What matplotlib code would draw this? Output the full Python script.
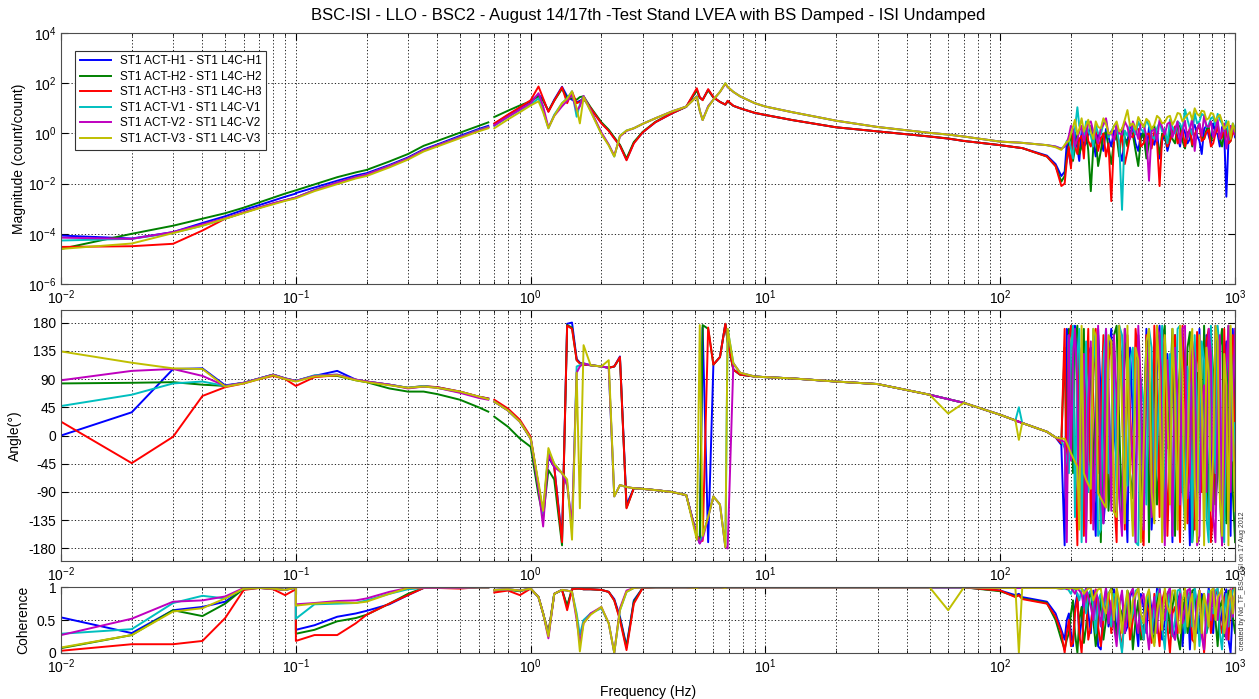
## bsc_isi_st1_tf: transfer functions ST1 actuators -> ST1 L4C, LLO BSC2 test stand
# -----------------------------------------------------------------------------
import numpy as np
import matplotlib
matplotlib.use('Agg')
from matplotlib import pyplot as plt
from matplotlib.ticker import FixedLocator, LogLocator, NullFormatter

plt.rcParams['font.family'] = ['Liberation Sans', 'DejaVu Sans']
plt.rcParams['axes.unicode_minus'] = False

# -----------------------------------------------------------------------------
# frequency points (Hz): low band, mid band, high band, high band (noisy part)
frq_a = [0.01, 0.02, 0.03, 0.04, 0.05, 0.06, 0.07, 0.08, 0.09, 0.1]
frq_b = [0.1, 0.12, 0.15, 0.18, 0.2, 0.25, 0.3, 0.35, 0.4, 0.5, 0.6, 0.66]
frq_c = [0.7, 0.8, 0.9, 1.0, 1.08, 1.13, 1.19, 1.26, 1.36, 1.43,
         1.5, 1.57, 1.62, 1.68, 1.8, 2.0, 2.15, 2.27, 2.4, 2.56,
         2.75, 3.0, 3.4, 4.0, 4.6, 5.1, 5.25, 5.4, 5.7, 6.0,
         6.4, 6.75, 6.9, 7.3, 7.8, 9.0, 10, 13, 20, 30,
         50, 60, 70, 100, 116, 120, 124, 158, 172, 182]
frq_n = [188, 192, 196, 200, 204, 208, 213, 217, 222, 227,
         232, 237, 243, 249, 255, 261, 268, 275, 282, 289,
         297, 305, 313, 321, 330, 339, 348, 357, 367, 377,
         387, 397, 408, 419, 430, 441, 453, 465, 477, 489,
         502, 515, 528, 541, 555, 569, 583, 597, 612, 627,
         642, 657, 673, 689, 705, 721, 738, 755, 772, 789,
         807, 825, 843, 861, 880, 899, 918, 937, 957, 978,
         1000]

labels = ['ST1 ACT-H1 - ST1 L4C-H1', 'ST1 ACT-H2 - ST1 L4C-H2', 'ST1 ACT-H3 - ST1 L4C-H3',
          'ST1 ACT-V1 - ST1 L4C-V1', 'ST1 ACT-V2 - ST1 L4C-V2', 'ST1 ACT-V3 - ST1 L4C-V3']

# -----------------------------------------------------------------------------
# magnitude (count/count)
mag_h1 = [8.5e-5, 6.5e-5, 1.17e-4, 2.7e-4, 5e-4, 9e-4, 1.4e-3, 2.1e-3, 3e-3, 4e-3,
          4.2e-3, 7e-3, 0.013, 0.021, 0.026, 0.055, 0.11, 0.23, 0.36, 0.8, 1.5, 2.0,
          2.4, 5.3, 10.5, 19, 36, 22, 7.5, 22, 72, 30,
          22, 17, 20, 24, 10, 2.6, 1.3, 0.65, 0.33, 0.09,
          0.42, 1.1, 2.8, 6.3, 11.5, 55, 27, 22, 55, 27,
          18, 14, 19, 12.5, 10, 6.5, 5.4, 3.4, 1.75, 1.2,
          0.75, 0.62, 0.5, 0.34, 0.28, 0.27, 0.26, 0.13, 0.06, 0.02,
          0.03, 0.4, 0.15, 0.05, 0.6, 1.1, 0.25, 0.08, 1.2, 0.3,
          0.4, 1.0, 2.0, 0.5, 0.12, 0.9, 0.6, 0.2, 1.5, 0.7,
          0.3, 1.3, 0.9, 0.25, 0.08, 0.6, 0.5, 2.0, 1.4, 0.4,
          0.2, 1.0, 0.7, 0.15, 1.8, 0.6, 0.35, 1.2, 0.1, 0.5,
          0.9, 0.2, 0.5, 1.3, 1.6, 0.7, 0.3, 1.8, 1.1, 0.4,
          0.6, 1.5, 2.2, 0.8, 0.5, 0.15, 1.5, 2.0, 0.8, 0.4,
          2.5, 1.2, 0.9, 0.3, 1.8, 0.9, 0.003, 0.5, 1.2, 2.0,
          0.7]
mag_h2 = [2.5e-5, 1e-4, 2.1e-4, 4e-4, 6.6e-4, 1.1e-3, 1.8e-3, 2.75e-3, 4e-3, 5.4e-3,
          5.4e-3, 9.3e-3, 0.018, 0.028, 0.035, 0.076, 0.15, 0.32, 0.5, 1.07, 2.0, 2.75,
          4.5, 8, 13, 19, 30, 20, 8, 20, 60, 25,
          25, 22, 28, 30, 11, 2.8, 1.4, 0.7, 0.35, 0.1,
          0.45, 1.15, 2.9, 6.5, 11.5, 52, 26, 22, 52, 27,
          18, 14, 19, 12.5, 10, 6.6, 5.4, 3.4, 1.75, 1.2,
          0.76, 0.63, 0.5, 0.34, 0.28, 0.27, 0.26, 0.12, 0.05, 0.012,
          0.02, 0.1, 0.4, 1.0, 0.08, 0.25, 0.9, 0.15, 0.3, 0.8,
          1.5, 0.2, 0.005, 0.3, 0.7, 0.05, 0.2, 0.9, 1.1, 0.3,
          0.06, 0.5, 0.8, 0.12, 1.6, 0.7, 0.3, 1.3, 0.9, 0.2,
          0.05, 0.6, 1.2, 0.1, 0.4, 1.5, 2.0, 0.5, 0.15, 1.0,
          0.7, 0.3, 1.4, 0.6, 0.4, 2.2, 1.9, 0.5, 0.25, 1.1,
          1.2, 0.3, 0.8, 1.6, 2.4, 0.7, 0.6, 1.4, 1.8, 0.5,
          0.9, 1.5, 2.6, 0.6, 0.3, 1.0, 1.5, 0.4, 0.5, 1.3,
          1.0]
mag_h3 = [3e-5, 3.2e-5, 4e-5, 1.35e-4, 4e-4, 7e-4, 1.1e-3, 1.6e-3, 2.15e-3, 2.75e-3,
          2.8e-3, 5.5e-3, 0.011, 0.018, 0.023, 0.05, 0.1, 0.21, 0.33, 0.72, 1.35, 1.8,
          2.5, 5.6, 11, 21, 74, 25, 7.2, 20, 69, 16,
          47, 16, 18, 25, 10, 2.5, 1.26, 0.63, 0.32, 0.085,
          0.4, 1.1, 2.8, 6.3, 11.7, 63, 28, 21, 58, 28,
          18, 14, 20, 12.6, 10, 6.6, 5.4, 3.4, 1.75, 1.2,
          0.75, 0.62, 0.5, 0.34, 0.28, 0.27, 0.26, 0.12, 0.05, 0.008,
          0.01, 0.08, 0.3, 0.04, 1.0, 0.3, 0.15, 0.6, 0.8, 0.1,
          2.5, 0.5, 0.3, 0.9, 1.3, 0.2, 0.6, 1.0, 0.12, 0.4,
          0.002, 0.5, 1.8, 0.3, 0.9, 0.06, 0.2, 0.8, 0.7, 1.6,
          1.5, 0.3, 0.4, 0.9, 1.0, 0.25, 1.2, 0.5, 0.008, 0.7,
          1.3, 0.3, 0.5, 1.1, 1.9, 0.4, 0.7, 1.5, 0.3, 0.8,
          1.6, 0.35, 0.9, 1.4, 2.0, 0.5, 0.6, 1.1, 1.4, 0.3,
          0.4, 1.0, 1.7, 0.6, 0.7, 1.9, 1.2, 0.4, 0.5, 1.1,
          0.9]
mag_v1 = [5.4e-5, 6.3e-5, 1.1e-4, 2.1e-4, 4e-4, 7e-4, 1.1e-3, 1.6e-3, 2.15e-3, 2.75e-3,
          2.8e-3, 5.5e-3, 0.011, 0.018, 0.023, 0.05, 0.1, 0.21, 0.33, 0.72, 1.35, 1.8,
          2.0, 4.5, 8.5, 14, 25, 8, 1.6, 5.5, 16, 25,
          47, 4.6, 14, 30, 8, 1.0, 0.35, 0.12, 0.8, 1.3,
          1.6, 2.4, 4.0, 7.5, 11.7, 30, 8, 3.4, 12, 22,
          45, 100, 70, 45, 30, 16, 11.7, 7, 3.2, 1.8,
          1.05, 0.9, 0.75, 0.47, 0.44, 0.43, 0.42, 0.34, 0.3, 0.25,
          0.3, 0.5, 0.6, 0.25, 0.1, 1.5, 11, 2.0, 1.5, 0.6,
          3.0, 1.2, 0.8, 0.3, 2.2, 1.0, 0.9, 2.5, 3.5, 0.7,
          1.2, 2.0, 1.8, 0.4, 0.0009, 1.3, 0.8, 2.4, 1.8, 0.9,
          3.0, 1.5, 1.1, 3.5, 2.0, 0.8, 0.6, 1.6, 2.8, 1.2,
          1.5, 0.4, 3.5, 1.8, 1.0, 3.0, 2.4, 1.4, 9.0, 3.5,
          1.6, 0.9, 6.5, 2.5, 3.0, 6.0, 5.0, 1.8, 2.2, 4.0,
          4.5, 2.0, 6.0, 3.5, 2.5, 1.2, 3.2, 0.8, 1.0, 2.5,
          1.5]
mag_v2 = [7e-5, 6.3e-5, 1.17e-4, 2.4e-4, 4.2e-4, 7.2e-4, 1.12e-3, 1.65e-3, 2.2e-3, 2.8e-3,
          2.8e-3, 5.4e-3, 0.011, 0.018, 0.023, 0.05, 0.1, 0.21, 0.33, 0.7, 1.3, 1.75,
          2.1, 4.6, 9, 16, 40, 12, 1.7, 5, 12, 20,
          35, 8, 12, 31, 8.5, 1.1, 0.36, 0.13, 0.75, 1.25,
          1.6, 2.4, 4.0, 7.5, 11.7, 30, 8, 3.4, 12, 22,
          45, 95, 70, 45, 30, 16, 11.7, 7, 3.2, 1.8,
          1.05, 0.9, 0.75, 0.47, 0.44, 0.43, 0.42, 0.34, 0.3, 0.24,
          0.3, 0.4, 0.8, 2.0, 1.5, 0.3, 0.6, 1.2, 2.0, 0.5,
          1.0, 2.5, 3.0, 1.2, 0.8, 0.4, 1.6, 2.2, 4.0, 0.9,
          1.2, 0.5, 2.5, 1.0, 0.9, 3.0, 1.8, 0.6, 3.0, 1.5,
          0.6, 2.5, 2.2, 0.8, 0.013, 1.2, 1.5, 0.5, 3.5, 1.8,
          0.9, 2.4, 2.8, 0.7, 1.4, 3.0, 0.4, 1.2, 3.2, 0.6,
          1.5, 4.0, 0.2, 1.5, 2.5, 0.8, 5.0, 2.0, 1.8, 3.0,
          0.7, 1.4, 3.5, 0.6, 1.2, 2.5, 0.25, 0.8, 2.0, 1.5,
          0.9]
mag_v3 = [2.5e-5, 4.1e-5, 1.07e-4, 2.1e-4, 4e-4, 6.8e-4, 1.05e-3, 1.5e-3, 2.05e-3, 2.6e-3,
          2.6e-3, 5e-3, 9.5e-3, 0.016, 0.02, 0.044, 0.09, 0.19, 0.3, 0.65, 1.2, 1.6,
          1.6, 3.6, 7, 13, 19, 7, 1.6, 5, 16, 24,
          47, 10, 2.5, 28, 7.5, 0.95, 0.33, 0.12, 0.8, 1.3,
          1.6, 2.4, 4.0, 7.5, 11.7, 29, 8, 3.4, 11, 22,
          45, 100, 72, 45, 30, 16, 11.7, 7, 3.2, 1.8,
          1.05, 0.9, 0.75, 0.47, 0.44, 0.43, 0.42, 0.34, 0.28, 0.22,
          0.35, 0.45, 0.5, 1.0, 1.8, 3.5, 0.9, 1.5, 4.0, 1.2,
          2.0, 3.5, 1.2, 0.6, 3.0, 1.8, 1.6, 4.0, 2.4, 1.0,
          1.0, 2.0, 3.0, 1.2, 1.5, 3.5, 8.5, 2.0, 2.5, 1.4,
          4.5, 2.8, 1.8, 3.8, 3.0, 1.5, 2.2, 5.0, 4.0, 2.5,
          2.8, 4.5, 5.0, 2.2, 3.5, 6.5, 6.0, 3.0, 4.2, 5.5,
          7.0, 3.5, 10.0, 6.0, 5.0, 8.0, 7.5, 3.5, 4.0, 6.5,
          6.0, 3.0, 4.5, 5.5, 3.0, 1.5, 2.0, 3.0, 0.6, 2.5,
          1.2]

# -----------------------------------------------------------------------------
# phase (deg)
phs_h1 = [0, 37, 106, 107, 80, 84, 91, 97, 91, 87,
          87, 95, 103, 89, 86, 81, 76, 78, 77, 70, 62, 59,
          54, 40, 22, -5, -80, -125, -35, -50, -165, 178,
          180, 122, 116, 114, 112, 110, 108, 110, 126, -110,
          -84, -85, -87, -90, -95, -160, -172, 172, -170, 113,
          125, 178, 150, 105, 97, 94, 93, 91, 86, 82,
          65, 58, 52, 33, 24, 22, 20, 6, -3, -15,
          -175, 170, 160, -30, 150, 175, 120, 60, 100, -120,
          95, 140, 130, -80, -160, 170, 60, -140, -90, 120,
          170, 10, -40, 160, 110, -60, -170, 140, 30, -100,
          150, 60, -120, 170, 80, -150, -60, 100, 175, -20,
          -150, 130, 40, -170, 160, 20, -100, 150, 120, -40,
          -175, 90, 20, -130, 170, 40, -80, 160, 140, -20,
          -130, 175, 60, -90, -170, 120, 150, -60, -160, 170,
          10]
phs_h2 = [83, 84, 85, 81, 79, 84, 91, 97, 91, 87,
          87, 95, 95, 88, 85, 75, 70, 70, 66, 57, 45, 38,
          30, 14, -5, -18, -95, -130, -55, -70, -175, 176,
          172, 120, 115, 113, 112, 110, 108, 110, 124, -115,
          -84, -85, -87, -90, -95, -160, -170, 176, 170, 113,
          125, 178, 150, 105, 97, 94, 93, 91, 86, 82,
          65, 58, 52, 33, 24, 22, 20, 6, -3, -10,
          140, -40, 170, 110, -60, 150, 175, -100, 80, 170,
          -150, 30, 140, -80, 60, 160, -170, 40, 120, -120,
          -30, 160, 175, 20, -140, 170, 90, -60, -100, 120,
          160, -150, 20, 150, -170, 80, 130, -110, -50, 150,
          175, -20, 70, 170, -160, 60, 110, -90, -20, 140,
          165, -170, -120, 100, 50, -60, 175, 30, -150, 160,
          100, -110, -60, 140, 170, -30, -140, 175, 80, -90,
          -170]
phs_h3 = [22, -44, -2, 63, 77, 83, 90, 95, 90, 79,
          79, 93, 96, 89, 86, 81, 76, 79, 77, 70, 62, 59,
          57, 43, 25, -2, -80, -125, -30, -50, -170, 175,
          170, 120, 115, 113, 112, 110, 108, 110, 125, -116,
          -84, -85, -87, -90, -95, -160, -165, -168, 172, 113,
          125, 178, 150, 105, 97, 94, 93, 91, 86, 82,
          65, 58, 52, 33, 24, 22, 20, 6, -3, -12,
          170, -120, 150, 175, 120, -30, -175, 140, 100, -160,
          60, 170, -140, 90, 170, -60, 30, 160, -110, 120,
          150, -90, -170, 175, 70, -150, 160, 40, -60, 170,
          120, -130, -175, 160, 40, -100, 175, 60, -130, 170,
          90, -160, -20, 130, 160, -60, -170, 175, 60, -140,
          130, 20, -150, 165, 100, -90, -40, 150, 170, -170,
          -120, 100, 150, -50, -175, 170, 20, -120, 120, 160,
          -60]
phs_v1 = [47, 65, 83, 86, 79, 84, 91, 97, 91, 87,
          87, 96, 97, 89, 86, 81, 76, 79, 76, 69, 61, 58,
          54, 40, 22, -5, -80, -125, -25, -45, -60, -75,
          -150, 110, 112, 115, 112, 110, 108, -97, -79, -82,
          -84, -85, -87, -90, -95, -160, -170, -160, -130, -97,
          -110, -178, 170, 115, 100, 94, 93, 91, 86, 82,
          65, 58, 52, 33, 24, 45, 20, 6, -3, -8,
          -20, -40, -60, 140, 175, -130, 130, 170, -170, 60,
          150, -90, -40, 170, 110, -160, -150, 120, 170, -60,
          20, 150, -120, 175, 160, -30, -80, 120, 140, -170,
          -175, 90, 50, -110, 170, 140, -110, -20, 90, 175,
          -160, 60, 130, -150, -30, 170, 175, -80, -140, 110,
          80, -170, 160, 40, -90, 150, 120, -130, -170, 175,
          40, -60, 175, 130, -120, -170, 100, 150, 160, -40,
          20]
phs_v2 = [88, 103, 106, 95, 79, 84, 91, 97, 91, 87,
          87, 95, 97, 89, 86, 81, 75, 78, 76, 68, 60, 57,
          54, 40, 22, -5, -85, -145, -30, -50, -60, -80,
          -140, 100, 110, 115, 112, 110, 108, -97, -79, -82,
          -84, -85, -87, -90, -95, -160, -172, -165, -130, -97,
          -110, -178, -180, 115, 100, 94, 93, 91, 86, 82,
          65, 58, 52, 33, 24, 22, 20, 6, -3, -8,
          -10, -170, 160, -40, 120, 170, 80, -120, 40, 130,
          -170, 60, 150, -150, 10, 175, -80, -140, 170, 90,
          -120, 160, 60, -100, -160, 170, 140, 20, -40, -170,
          175, 80, -150, 140, 100, -130, -70, 175, 160, -20,
          -175, 120, 30, -160, 140, 60, -110, 170, 175, -100,
          -60, 150, 120, -175, -160, 50, 80, -90, 170, 130,
          -130, -170, 40, 160, -175, -40, 110, 175, -90, 60,
          170]
phs_v3 = [134, 116, 107, 106, 78, 83, 90, 96, 90, 86,
          86, 94, 96, 88, 85, 80, 76, 78, 76, 70, 62, 58,
          54, 40, 22, -5, -75, -120, -20, -45, -60, -70,
          -166, 100, -116, 144, 112, 110, 120, -97, -79, -82,
          -84, -85, -87, -90, -95, -166, 176, -160, -130, -97,
          -110, -178, 170, 115, 100, 94, 93, 91, 86, 82,
          65, 35, 52, 33, 24, -7, 20, 6, -3, -5,
          -5, -12, -20, -28, -35, -42, -50, -150, 175, -60,
          -70, -78, -85, 170, 160, -92, -100, -108, -115, 160,
          150, -122, -130, 175, 40, -140, 175, -60, -160, 140,
          120, -170, -20, 150, 170, -90, -140, 175, 90, -170,
          160, 30, -110, 170, 60, -150, 175, 100, -150, -40,
          130, 170, -70, -170, 160, 60, -175, 140, 100, -120,
          -30, 175, 150, -100, -160, 130, 80, -175, 175, 30,
          -120]

# -----------------------------------------------------------------------------
# coherence
coh_h1 = [0.54, 0.30, 0.65, 0.70, 0.78, 0.98, 0.99, 0.98, 0.96, 1.0,
          0.35, 0.42, 0.55, 0.6, 0.64, 0.74, 0.88, 0.99, 0.99, 0.99, 1.0, 1.0,
          0.96, 0.97, 0.95, 0.98, 0.85, 0.6, 0.27, 0.9, 0.96, 0.7,
          0.97, 0.98, 0.98, 0.97, 0.97, 0.96, 0.93, 0.82, 0.55, 0.1,
          0.8, 0.99, 1.0, 1.0, 1.0, 0.99, 1.0, 1.0, 1.0, 1.0,
          1.0, 0.99, 1.0, 1.0, 1.0, 1.0, 1.0, 1.0, 1.0, 1.0,
          1.0, 1.0, 1.0, 0.95, 0.88, 0.9, 0.85, 0.78, 0.6, 0.35,
          0.2, 0.5, 0.6, 0.3, 0.1, 0.7, 0.9, 0.2, 0.5, 0.9,
          0.98, 0.6, 0.3, 0.95, 0.8, 0.1, 0.05, 0.7, 0.95, 0.4,
          0.6, 0.97, 0.2, 0.75, 0.9, 0.3, 0.4, 0.85, 0.97, 0.5,
          0.1, 0.9, 0.7, 0.3, 0.95, 0.65, 0.3, 0.98, 0.85, 0.2,
          0.5, 0.9, 0.98, 0.4, 0.2, 0.8, 0.9, 0.1, 0.6, 0.95,
          0.05, 0.7, 0.95, 0.3, 0.4, 0.9, 0.8, 0.5, 0.99, 0.7,
          0.3, 0.95, 0.9, 0.4, 0.6, 0.85, 0.97, 0.2, 0.0, 0.7,
          0.9]
coh_h2 = [0.07, 0.27, 0.65, 0.56, 0.75, 0.98, 0.99, 0.98, 0.96, 1.0,
          0.29, 0.35, 0.48, 0.53, 0.58, 0.75, 0.9, 0.99, 0.99, 0.99, 1.0, 1.0,
          0.95, 0.96, 0.94, 0.98, 0.85, 0.6, 0.3, 0.9, 0.96, 0.72,
          0.97, 0.98, 0.98, 0.97, 0.97, 0.96, 0.93, 0.8, 0.52, 0.08,
          0.78, 0.99, 1.0, 1.0, 1.0, 0.99, 1.0, 1.0, 1.0, 1.0,
          1.0, 0.99, 1.0, 1.0, 1.0, 1.0, 1.0, 1.0, 1.0, 1.0,
          1.0, 1.0, 1.0, 0.94, 0.86, 0.88, 0.83, 0.76, 0.5, 0.2,
          0.05, 0.2, 0.3, 0.6, 0.8, 0.3, 0.0, 0.5, 0.7, 0.15,
          0.4, 0.8, 0.95, 0.5, 0.1, 0.4, 0.85, 0.2, 0.5, 0.9,
          0.98, 0.6, 0.2, 0.7, 0.6, 0.3, 0.95, 0.8, 0.05, 0.5,
          0.8, 0.2, 0.4, 0.7, 0.9, 0.35, 0.15, 0.8, 0.97, 0.5,
          0.6, 0.9, 0.3, 0.7, 0.95, 0.25, 0.05, 0.6, 0.85, 0.3,
          0.5, 0.95, 0.97, 0.6, 0.2, 0.8, 0.9, 0.3, 0.45, 0.9,
          0.99, 0.5, 0.1, 0.7, 0.8, 0.25, 0.6, 0.95, 0.95, 0.55,
          0.3]
coh_h3 = [0.03, 0.13, 0.13, 0.18, 0.53, 0.96, 0.99, 0.97, 0.88, 0.97,
          0.18, 0.27, 0.27, 0.45, 0.58, 0.75, 0.88, 0.99, 0.99, 0.98, 1.0, 1.0,
          0.92, 0.95, 0.88, 0.98, 0.85, 0.6, 0.3, 0.9, 0.96, 0.65,
          0.97, 0.98, 0.98, 0.97, 0.97, 0.96, 0.93, 0.8, 0.5, 0.04,
          0.75, 0.99, 1.0, 1.0, 1.0, 0.99, 1.0, 1.0, 1.0, 1.0,
          1.0, 0.99, 1.0, 1.0, 1.0, 1.0, 1.0, 1.0, 1.0, 1.0,
          1.0, 1.0, 1.0, 0.95, 0.85, 0.88, 0.82, 0.75, 0.55, 0.3,
          0.0, 0.3, 0.5, 0.1, 0.15, 0.6, 0.85, 0.3, 0.0, 0.6,
          0.9, 0.2, 0.4, 0.8, 0.97, 0.4, 0.1, 0.5, 0.7, 0.9,
          0.3, 0.7, 0.95, 0.4, 0.05, 0.6, 0.8, 0.2, 0.5, 0.9,
          0.98, 0.35, 0.2, 0.75, 0.6, 0.15, 0.9, 0.5, 0.1, 0.8,
          0.95, 0.4, 0.0, 0.6, 0.7, 0.3, 0.98, 0.55, 0.4, 0.9,
          0.85, 0.2, 0.15, 0.7, 0.95, 0.4, 0.0, 0.5, 0.8, 0.3,
          0.6, 0.9, 0.97, 0.45, 0.3, 0.8, 0.9, 0.2, 0.7, 0.99,
          0.95]
coh_v1 = [0.29, 0.36, 0.76, 0.87, 0.83, 0.98, 0.99, 0.98, 0.96, 0.99,
          0.52, 0.74, 0.75, 0.76, 0.8, 0.9, 0.97, 0.99, 0.99, 0.99, 1.0, 1.0,
          0.96, 0.97, 0.95, 0.98, 0.85, 0.6, 0.27, 0.9, 0.96, 0.95,
          0.93, 0.6, 0.27, 0.5, 0.6, 0.68, 0.45, 0.0, 0.65, 0.93,
          0.99, 1.0, 1.0, 1.0, 1.0, 0.99, 1.0, 1.0, 1.0, 1.0,
          1.0, 0.99, 1.0, 1.0, 1.0, 1.0, 1.0, 1.0, 1.0, 1.0,
          1.0, 1.0, 1.0, 0.99, 0.99, 0.99, 0.99, 0.99, 0.99, 0.98,
          0.98, 0.99, 0.95, 0.9, 0.99, 0.97, 0.9, 0.8, 0.97, 0.95,
          0.6, 0.9, 0.95, 0.7, 0.3, 0.8, 0.9, 0.5, 0.98, 0.7,
          0.4, 0.9, 0.85, 0.3, 0.0, 0.6, 0.9, 0.45, 0.6, 0.95,
          0.97, 0.5, 0.2, 0.8, 0.95, 0.3, 0.7, 0.9, 0.99, 0.4,
          0.05, 0.7, 0.9, 0.25, 0.5, 0.95, 0.97, 0.6, 0.3, 0.85,
          0.92, 0.4, 0.99, 0.75, 0.1, 0.5, 0.85, 0.3, 0.95, 0.7,
          0.6, 0.95, 0.98, 0.3, 0.05, 0.6, 0.9, 0.4, 0.8, 0.95,
          0.99]
coh_v2 = [0.27, 0.52, 0.78, 0.80, 0.86, 0.99, 0.99, 0.98, 0.96, 1.0,
          0.74, 0.76, 0.79, 0.8, 0.83, 0.93, 0.99, 0.99, 0.99, 0.99, 1.0, 1.0,
          0.96, 0.97, 0.95, 0.98, 0.85, 0.6, 0.22, 0.9, 0.96, 0.95,
          0.93, 0.5, 0.15, 0.45, 0.6, 0.7, 0.45, 0.0, 0.68, 0.95,
          0.99, 1.0, 1.0, 1.0, 1.0, 0.99, 1.0, 1.0, 1.0, 1.0,
          1.0, 0.99, 1.0, 1.0, 1.0, 1.0, 1.0, 1.0, 1.0, 1.0,
          1.0, 1.0, 1.0, 0.99, 0.99, 0.99, 0.99, 0.99, 0.99, 0.98,
          0.99, 0.97, 0.98, 0.99, 0.95, 0.9, 0.99, 0.95, 0.9, 0.7,
          0.98, 0.85, 0.7, 0.5, 0.96, 0.8, 0.4, 0.75, 0.99, 0.45,
          0.8, 0.4, 0.1, 0.7, 0.95, 0.3, 0.6, 0.9, 0.98, 0.55,
          0.3, 0.8, 0.9, 0.4, 0.05, 0.6, 0.85, 0.3, 0.97, 0.7,
          0.5, 0.9, 0.99, 0.3, 0.2, 0.6, 0.9, 0.45, 0.7, 0.95,
          0.98, 0.6, 0.35, 0.8, 0.95, 0.25, 0.05, 0.7, 0.9, 0.5,
          0.99, 0.8, 0.5, 0.9, 0.95, 0.4, 0.2, 0.75, 0.97, 0.55,
          0.9]
coh_v3 = [0.08, 0.27, 0.63, 0.68, 0.83, 0.98, 0.99, 0.98, 0.96, 1.0,
          0.72, 0.75, 0.77, 0.76, 0.78, 0.9, 0.99, 1.0, 1.0, 1.0, 1.0, 1.0,
          0.96, 0.97, 0.95, 0.98, 0.85, 0.6, 0.25, 0.9, 0.96, 0.95,
          0.93, 0.55, 0.02, 0.45, 0.58, 0.7, 0.45, 0.0, 0.65, 0.93,
          0.99, 1.0, 1.0, 1.0, 1.0, 0.99, 1.0, 1.0, 1.0, 1.0,
          1.0, 0.99, 1.0, 1.0, 1.0, 1.0, 1.0, 1.0, 1.0, 1.0,
          1.0, 0.65, 1.0, 0.99, 0.99, 0.0, 0.99, 0.99, 0.99, 0.98,
          0.99, 0.99, 0.98, 0.99, 0.99, 0.98, 0.97, 0.99, 0.99, 0.9,
          0.95, 0.98, 0.99, 0.8, 0.9, 0.97, 0.98, 0.7, 0.6, 0.9,
          0.97, 0.5, 0.99, 0.8, 0.3, 0.7, 0.95, 0.4, 0.8, 0.9,
          0.99, 0.6, 0.45, 0.85, 0.97, 0.3, 0.1, 0.6, 0.9, 0.35,
          0.99, 0.7, 0.6, 0.95, 0.95, 0.5, 0.3, 0.8, 0.99, 0.4,
          0.75, 0.9, 0.05, 0.6, 0.95, 0.3, 0.9, 0.7, 0.4, 0.95,
          0.98, 0.5, 0.85, 0.9, 0.99, 0.3, 0.5, 0.8, 0.95, 0.6,
          0.99]

mags = [mag_h1, mag_h2, mag_h3, mag_v1, mag_v2, mag_v3]
phss = [phs_h1, phs_h2, phs_h3, phs_v1, phs_v2, phs_v3]
cohs = [coh_h1, coh_h2, coh_h3, coh_v1, coh_v2, coh_v3]
clrs = [(0, 0, 1), (0, 0.5, 0), (1, 0, 0), (0, 0.75, 0.75), (0.75, 0, 0.75), (0.75, 0.75, 0)]

# -----------------------------------------------------------------------------
# mid and high band are separate sweeps: break the line between them
ngap = len(frq_a) + len(frq_b)
frq = np.array(frq_a + frq_b + [np.nan] + frq_c + frq_n)

def with_gap(vals):
    return np.insert(np.array(vals, dtype=float), ngap, np.nan)

# -----------------------------------------------------------------------------
fig = plt.figure(figsize=(12.59, 6.99), dpi=100)
ax1 = fig.add_axes([0.0485, 0.5937, 0.9325, 0.3591])
ax2 = fig.add_axes([0.0485, 0.1974, 0.9325, 0.3591])
ax3 = fig.add_axes([0.0485, 0.0662, 0.9325, 0.0936])

for (mag, phs, coh, clr, lbl) in zip(mags, phss, cohs, clrs, labels):
    ax1.plot(frq, with_gap(mag), color=clr, lw=1.4, label=lbl)
    ax2.plot(frq, with_gap(phs), color=clr, lw=1.4)
    ax3.plot(frq, with_gap(coh), color=clr, lw=1.4)

for ax in (ax1, ax2, ax3):
    ax.set_xscale('log')
    ax.set_xlim(0.01, 1000)
    ax.xaxis.set_major_locator(LogLocator(base=10, numticks=12))
    ax.xaxis.set_minor_locator(LogLocator(base=10, subs=np.arange(2, 10), numticks=12))
    ax.xaxis.set_minor_formatter(NullFormatter())
    ax.grid(True, which='both', axis='x', linestyle=(0, (1.5, 2.5)), color='k', lw=0.6)
    ax.grid(True, which='major', axis='y', linestyle=(0, (1.5, 2.5)), color='k', lw=0.6)
    ax.tick_params(which='both', direction='in', top=True, right=True, labelsize=10)
    ax.tick_params(which='major', length=5)
    ax.tick_params(which='minor', length=2.5)
    for sp in ax.spines.values():
        sp.set_color('0.3')

ax1.set_yscale('log')
ax1.set_ylim(1e-6, 1e4)
ax1.yaxis.set_major_locator(FixedLocator([1e-6, 1e-4, 1e-2, 1e0, 1e2, 1e4]))
ax1.yaxis.set_minor_locator(FixedLocator([]))
ax1.set_ylabel('Magnitude (count/count)', fontsize=10)
ax1.yaxis.set_label_coords(-0.030, 0.5)
ax1.set_title('BSC-ISI - LLO - BSC2 - August 14/17th -Test Stand LVEA with BS Damped - ISI Undamped',
              fontsize=12, pad=9)
leg = ax1.legend(loc='upper left', bbox_to_anchor=(0.012, 0.93), borderaxespad=0,
                 fontsize=8.5, handlelength=2.6, labelspacing=0.3, fancybox=False,
                 framealpha=1, edgecolor='0.2', borderpad=0.4)
leg.get_frame().set_linewidth(0.8)

ax2.set_ylim(-200, 200)
ax2.yaxis.set_major_locator(FixedLocator([-180, -135, -90, -45, 0, 45, 90, 135, 180]))
ax2.set_ylabel('Angle(°)', fontsize=10)
ax2.yaxis.set_label_coords(-0.033, 0.5)

ax3.set_ylim(0, 1)
ax3.yaxis.set_major_locator(FixedLocator([0, 0.5, 1]))
ax3.set_yticklabels(['0', '0.5', '1'])
ax3.set_ylabel('Coherence', fontsize=10)
ax3.yaxis.set_label_coords(-0.026, 0.5)
ax3.set_xlabel('Frequency (Hz)', fontsize=10, labelpad=6)

fig.text(0.9845, 0.07, 'created by Nd_TF_BSC_ISI on 17 Aug 2012', rotation=90,
         fontsize=5, ha='left', va='bottom', color='0.2')

fig.savefig('out.png', dpi=100)
